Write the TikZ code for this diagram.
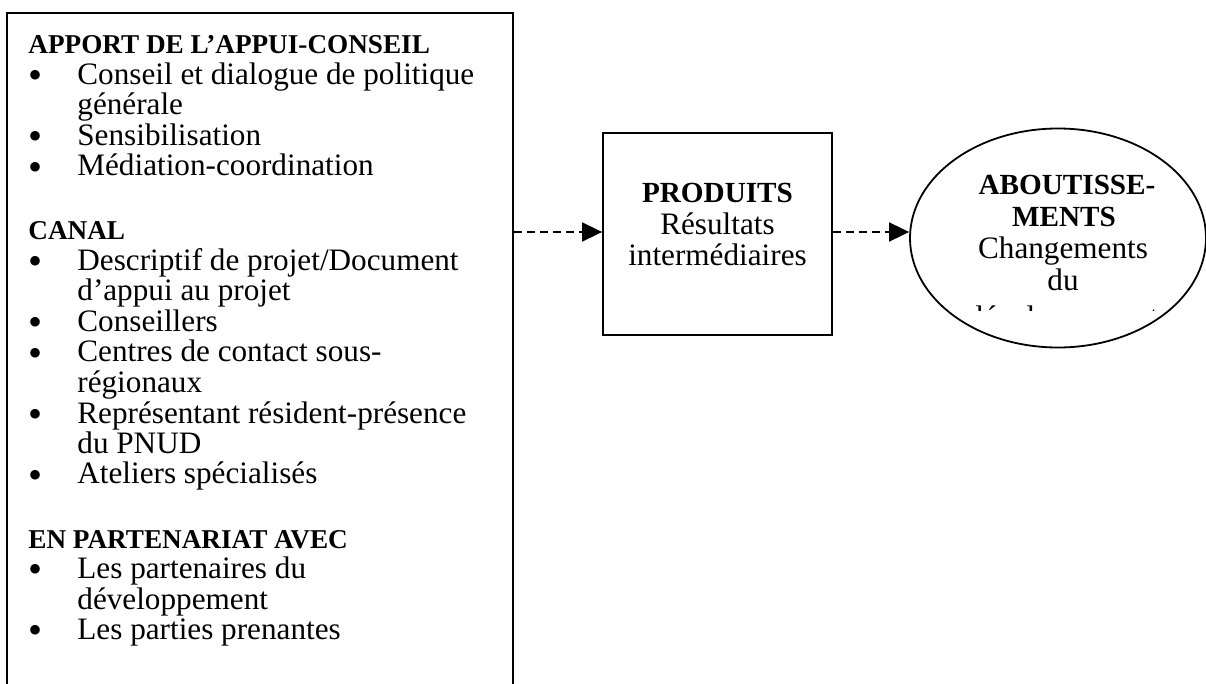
\documentclass[tikz,border=0pt]{standalone}
\usepackage{fontspec}
\setmainfont{Liberation Serif}
\usetikzlibrary{arrows.meta,shapes.geometric,fit}
\newcommand\bodyfont{\fontsize{15.6}{15.25}\selectfont}
\newcommand\headfont{\fontsize{13.6}{15.25}\selectfont\bfseries}
\newcommand\boxheadfont{\fontsize{14.6}{15.25}\selectfont\bfseries}
\newcommand\bulletfont{\fontsize{20}{20}\selectfont}

\begin{document}
\begin{tikzpicture}[x=0.5pt,y=-0.5pt,
  frame/.style={draw, line width=0.9pt, inner sep=0pt},
  head/.style={anchor=base west, inner sep=0pt, font=\headfont},
  item/.style={anchor=base west, inner sep=0pt, font=\bodyfont},
  bul/.style={anchor=base, inner sep=0pt, font=\bulletfont, yshift=-2.2pt,
    text height=6.5pt, text depth=-2pt},
  ctr/.style={anchor=base, inner sep=0pt, font=\bodyfont},
  ctrb/.style={anchor=base, inner sep=0pt, font=\boxheadfont},
  flow/.style={line width=0.9pt, dash pattern=on 4pt off 2.5pt,
    -{Triangle[length=10pt,width=9.5pt]}}]

\useasboundingbox (0,0) rectangle (1206,684);
\clip (0,0) rectangle (1206,684);

% left panel: inputs, channels and partners (runs past the lower edge)
\coordinate (pnw) at (7,13);
\coordinate (pse) at (513,720);
\node[frame, fit=(pnw)(pse)] (panel) {};

\node[head] (h1) at (28,54) {APPORT DE L’APPUI-CONSEIL};
\node[bul] (b1) at (36,84.5) {\textbullet};
\node[item] (i1) at (77,84.5) {Conseil et dialogue de politique};
\node[item] (i1b) at (77,115) {générale};
\node[bul] (b2) at (36,145.5) {\textbullet};
\node[item] (i2) at (77,145.5) {Sensibilisation};
\node[bul] (b3) at (36,176) {\textbullet};
\node[item] (i3) at (77,176) {Médiation-coordination};

\node[head] (h2) at (28,240) {CANAL};
\node[bul] (b4) at (36,270.5) {\textbullet};
\node[item] (i4) at (77,270.5) {Descriptif de projet/Document};
\node[item] (i4b) at (77,301) {d’appui au projet};
\node[bul] (b5) at (36,331.5) {\textbullet};
\node[item] (i5) at (77,331.5) {Conseillers};
\node[bul] (b6) at (36,362) {\textbullet};
\node[item] (i6) at (77,362) {Centres de contact sous-};
\node[item] (i6b) at (77,392.5) {régionaux};
\node[bul] (b7) at (36,423) {\textbullet};
\node[item] (i7) at (77,423) {Représentant résident-présence};
\node[item] (i7b) at (77,453.5) {du PNUD};
\node[bul] (b8) at (36,484) {\textbullet};
\node[item] (i8) at (77,484) {Ateliers spécialisés};

\node[head] (h3) at (28,548) {EN PARTENARIAT AVEC};
\node[bul] (b9) at (36,578.5) {\textbullet};
\node[item] (i9) at (77,578.5) {Les partenaires du};
\node[item] (i9b) at (77,609) {développement};
\node[bul] (b10) at (36,639.5) {\textbullet};
\node[item] (i10) at (77,639.5) {Les parties prenantes};

% outputs box
\coordinate (qnw) at (603,133);
\coordinate (qse) at (832,335);
\node[frame, fit=(qnw)(qse)] (prod) {};
\node[ctrb] (p1) at (717.5,203) {PRODUITS};
\node[ctr] (p2) at (717.5,235) {Résultats};
\node[ctr] (p3) at (717.5,266) {intermédiaires};

% outcomes ellipse; its last line is cut off by the text area
\node[frame, ellipse, minimum width=148pt, minimum height=109.5pt]
  (aim) at (1058,238) {};
\node[ctrb] (o1) at (1067,195) {ABOUTISSE-};
\node[ctrb] (o2) at (1064,227) {MENTS};
\node[ctr] (o3) at (1063,259) {Changements};
\node[ctr] (o4) at (1063,291) {du};
\begin{scope}
  \clip (900,0) rectangle (1206,311);
  \node[ctr] (o5) at (1063,328) {développement};
\end{scope}

% dashed links
\coordinate (lane) at (0,232);
\draw[flow] (lane -| panel.east) -- (lane -| prod.west);
\draw[flow] (lane -| prod.east) -- (lane -| aim.west);
\end{tikzpicture}
\end{document}
